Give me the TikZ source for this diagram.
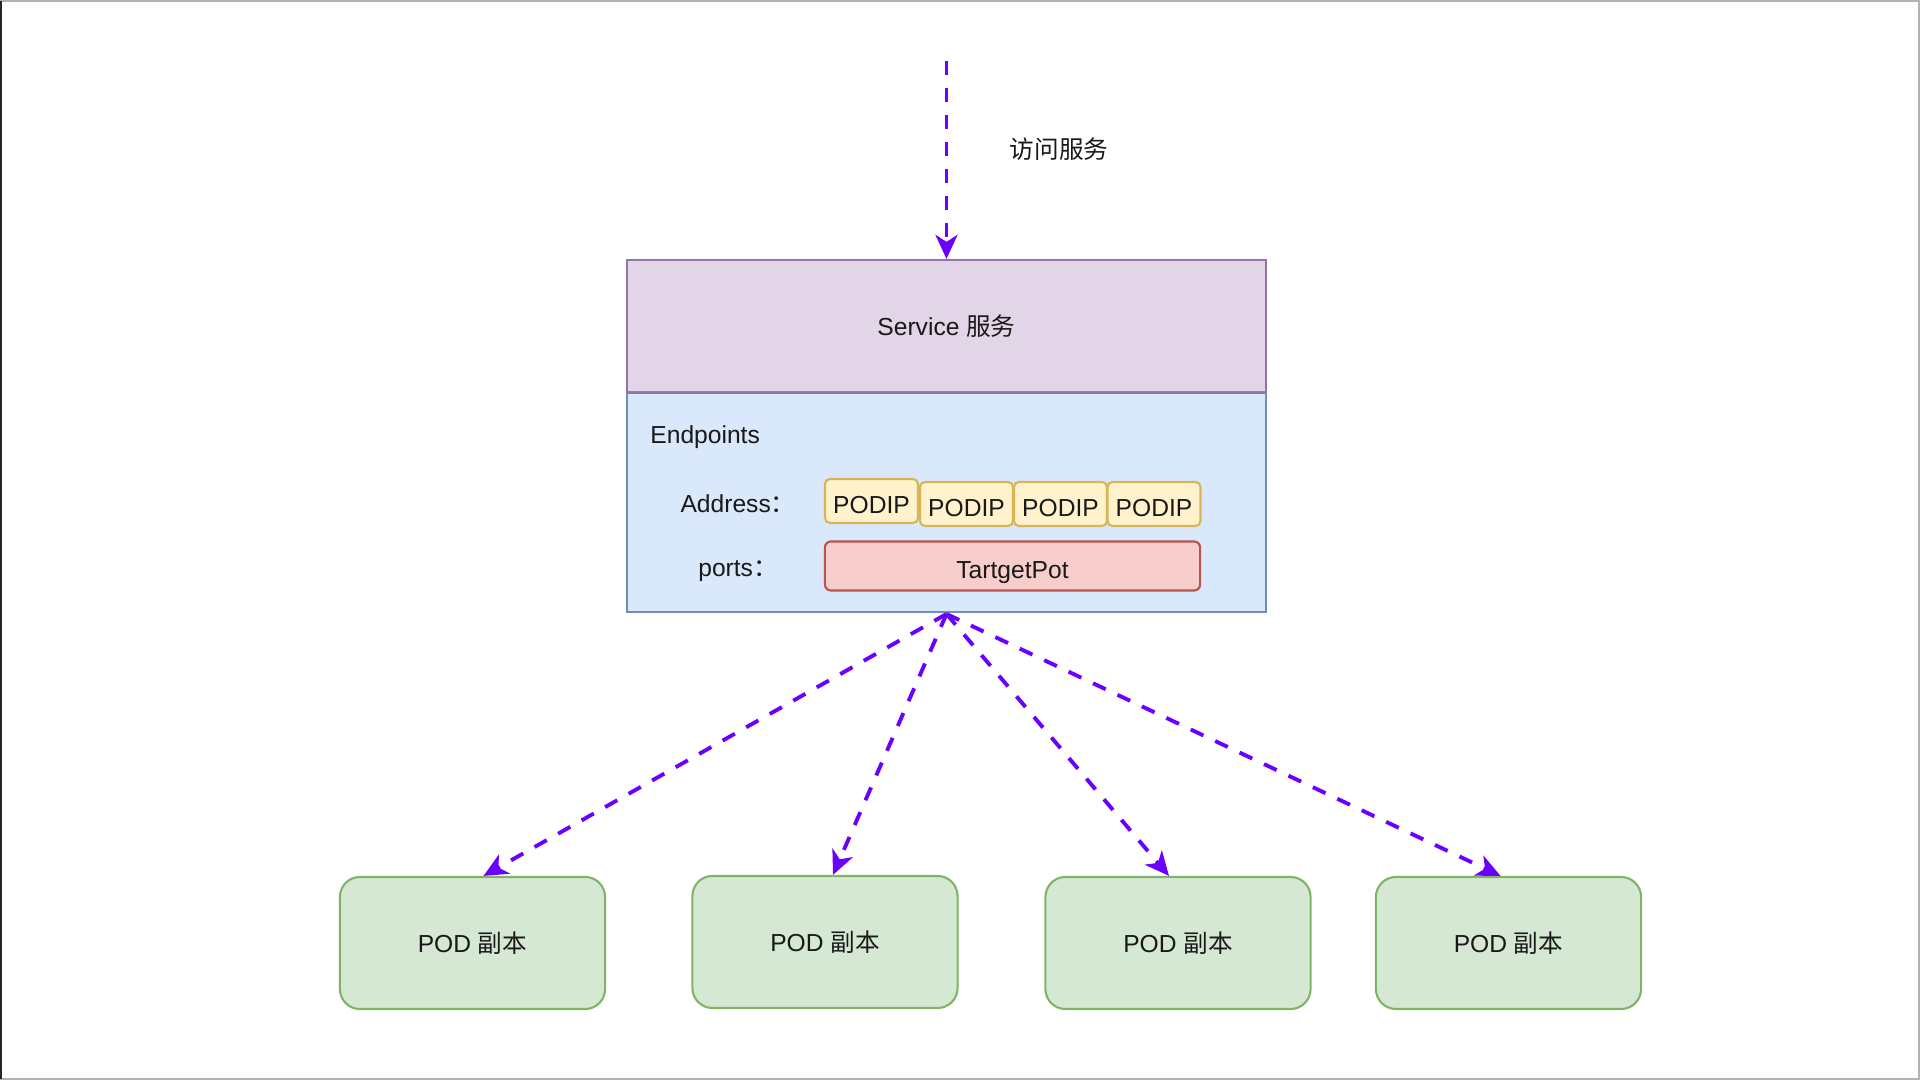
\documentclass[tikz,border=0pt]{standalone}
\usepackage{fontspec}
\setmainfont{Liberation Sans}
\newfontfamily\cjk{Noto Sans CJK SC}
\usetikzlibrary{arrows.meta}

\definecolor{flowc}{HTML}{6A00FF}
\definecolor{svcfill}{HTML}{E1D5E7}
\definecolor{svcline}{HTML}{9673A6}
\definecolor{epfill}{HTML}{DAE8FC}
\definecolor{epline}{HTML}{6C8EBF}
\definecolor{ipfill}{HTML}{FFF2CC}
\definecolor{ipline}{HTML}{D6B656}
\definecolor{portfill}{HTML}{F8CECC}
\definecolor{portline}{HTML}{B85450}
\definecolor{podfill}{HTML}{D5E8D4}
\definecolor{podline}{HTML}{82B366}

\tikzset{
  every node/.style={font=\fontsize{7}{8.4}\selectfont, text=black!90},
  ipbox/.style={draw=ipline, fill=ipfill, line width=0.6pt, rounded corners=0.05cm,
    minimum width=0.93cm, minimum height=0.44cm, inner sep=0pt,
    text height=0.72em, text depth=0pt},
  podbox/.style={draw=podline, fill=podfill, line width=0.6pt, rounded corners=0.2cm,
    minimum width=2.65cm, minimum height=1.32cm},
  flow/.style={draw=flowc, line width=1.1pt, dash pattern=on 0.14cm off 0.13cm,
    -{Stealth[length=0.24cm, width=0.22cm, inset=0.07cm]}}
}

\begin{document}
\begin{tikzpicture}[x=0.01cm, y=-0.01cm]
    \useasboundingbox (0,0) rectangle (1920,1080);
    \draw[black!30, line width=0.6pt] (1,1) rectangle (1919,1079);
    \draw[black!85, line width=0.8pt] (1,1) -- (1,1079);

    % service and endpoints
    \node[draw=svcline, fill=svcfill, line width=0.6pt, minimum width=6.39cm, minimum height=1.32cm] (svc) at (946.5,326) {Service {\cjk 服务}};
    \node[draw=epline, fill=epfill, line width=0.6pt, minimum width=6.39cm, minimum height=2.2cm] (ep) at (946.5,502) {};
    \draw[svcline!80!epline, line width=0.6pt] (svc.south west) -- (svc.south east);

    \node[anchor=west] (eplabel) at (638,437) {Endpoints};
    \node (addr) at (738,504) {Address{\cjk ：}};
    \node (ports) at (738,571) {ports{\cjk ：}};

    \node[ipbox] (ip1) at (871.5,501) {PODIP};
    \node[ipbox] (ip2) at (966.5,504) {PODIP};
    \node[ipbox] (ip3) at (1060.5,504) {PODIP};
    \node[ipbox] (ip4) at (1154,504) {PODIP};

    \node[draw=portline, fill=portfill, line width=0.6pt, rounded corners=0.06cm,
      minimum width=3.75cm, minimum height=0.49cm, inner sep=0pt,
      text height=0.72em, text depth=0pt] (port) at (1012.5,566) {TartgetPot};

    % pods
    \node[podbox] (pod1) at (472.5,943) {POD {\cjk 副本}};
    \node[podbox] (pod2) at (825,942) {POD {\cjk 副本}};
    \node[podbox] (pod3) at (1178,943) {POD {\cjk 副本}};
    \node[podbox] (pod4) at (1508.5,943) {POD {\cjk 副本}};

    % flows
    \coordinate (entry) at (946.5,61);
    \node at (1059,149) {\cjk 访问服务};
    \draw[flow] (entry) -- (svc.north);

    \coordinate (hub) at (946.5,614);
    \draw[flow] (hub) -- ([xshift=0.11cm]pod1.north);
    \draw[flow] (hub) -- ([xshift=0.08cm]pod2.north);
    \draw[flow] (hub) -- ([xshift=-0.09cm]pod3.north);
    \draw[flow] (hub) -- ([xshift=-0.08cm]pod4.north);
\end{tikzpicture}
\end{document}
